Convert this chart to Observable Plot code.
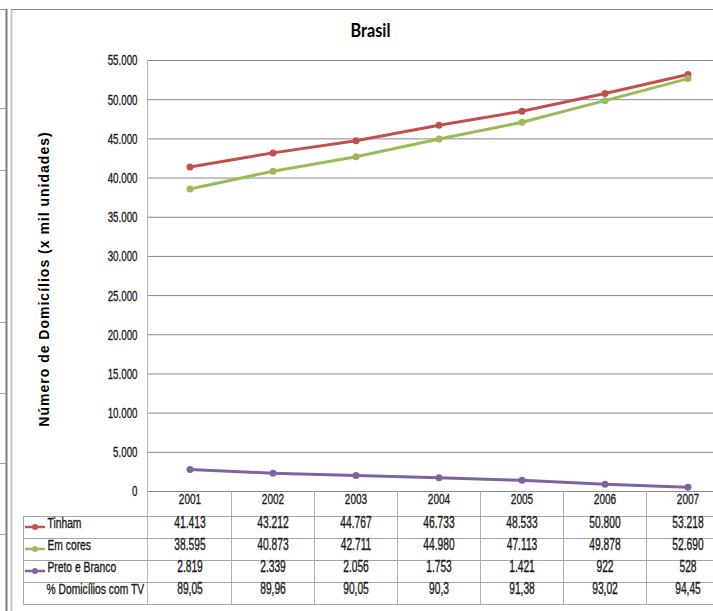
<!DOCTYPE html>
<html><head><meta charset="utf-8">
<script src="https://cdn.jsdelivr.net/npm/d3@7"></script>
<script src="https://cdn.jsdelivr.net/npm/@observablehq/plot@0.6"></script>
<style>html,body{margin:0;padding:0;background:#fff;overflow:hidden}</style>
</head><body><div id="chart"></div>
<script>
// ---- data ----
const years = ["2001","2002","2003","2004","2005","2006","2007"];
const tinham = [41413,43212,44767,46733,48533,50800,53218];
const emCores = [38595,40873,42711,44980,47113,49878,52690];
const pretoBranco = [2819,2339,2056,1753,1421,922,528];
const pctTV = [89.05,89.96,90.05,90.3,91.38,93.02,94.45];
const seriesNames = ["Tinham","Em cores","Preto e Branco"];
const pctLabel = "% Domicílios com TV";
const seriesColors = ["#C0504D","#9BBB59","#8064A2"];
const yTicks = [0,5000,10000,15000,20000,25000,30000,35000,40000,45000,50000,55000];
const chartTitle = "Brasil";
const yTitle = "Número de Domicílios (x mil unidades)";

// ---- formatting (pt-BR) ----
const loc = d3.formatLocale({decimal: ",", thousands: ".", grouping: [3], currency: ["R$", ""]});
const fmtInt = loc.format(",d");
const fmtPct = loc.format(".2~f");

const seriesValues = [tinham, emCores, pretoBranco];
const long = seriesNames.flatMap((s, k) => years.map((yr, i) => ({series: s, year: yr, value: seriesValues[k][i]})));
const rows = [
  {label: seriesNames[0], values: tinham, fmt: fmtInt, swatch: true},
  {label: seriesNames[1], values: emCores, fmt: fmtInt, swatch: true},
  {label: seriesNames[2], values: pretoBranco, fmt: fmtInt, swatch: true},
  {label: pctLabel, values: pctTV, fmt: fmtPct, swatch: false}
];

// ---- layout constants ----
const W = 713, H = 611;
const HEADER_H = 25, ROW_H = 22;
const TABLE_LEFT = 23;
const TXT = "#1a1a1a";

function tableGrid(index, scales, values, dims) {
  const x = scales.x, y = scales.y, color = scales.color;
  const g = d3.create("svg:g").attr("fill", "none");
  const y0 = Math.round(y(0));
  const yTop = Math.round(y(d3.max(yTicks)));
  const left = dims.marginLeft;
  const width = dims.width;
  const tableTop = y0 + HEADER_H;
  const tableBottom = tableTop + ROW_H * rows.length;
  const line = (x1, y1, x2, y2, stroke, sw = 1) =>
    g.append("line").attr("x1", x1).attr("y1", y1).attr("x2", x2).attr("y2", y2)
      .attr("stroke", stroke).attr("stroke-width", sw);
  // outer chart border
  line(11.5, 9, 11.5, H, "#c8c8c8", 2);
  line(11, 9.5, width, 9.5, "#8c8c8c", 1);
  // neighbouring panel on the far left
  line(6.5, 9, 6.5, H, "#7f7f7f", 2);
  line(0, 9.5, 7, 9.5, "#8c8c8c", 1);
  for (const ty of [108, 170, 322, 393, 463, 534]) line(0, ty + 0.5, 6, ty + 0.5, "#a0a0a0", 1);
  // plot-area left border
  line(left + 0.5, yTop, left + 0.5, tableBottom, "#b8b8b8", 1);
  // table horizontal lines
  for (let k = 0; k <= rows.length; ++k) {
    const yy = tableTop + ROW_H * k + 0.5;
    line(TABLE_LEFT, yy, width, yy, "#a6a6a6", 1);
  }
  // table left border
  line(TABLE_LEFT + 0.5, tableTop, TABLE_LEFT + 0.5, tableBottom, "#a6a6a6", 1);
  // band separators
  for (const yr of years.slice(1)) {
    const xx = Math.round(x(yr)) + 0.5;
    line(xx, y0, xx, tableBottom, "#b0b0b0", 1);
  }
  // legend swatches
  rows.forEach((r, k) => {
    if (!r.swatch) return;
    const c = color ? color(r.label) : seriesColors[k];
    const cy = tableTop + ROW_H * k + ROW_H / 2;
    line(TABLE_LEFT + 2, cy, TABLE_LEFT + 22, cy, c, 2.5);
    g.append("circle").attr("cx", TABLE_LEFT + 12).attr("cy", cy).attr("r", 3).attr("fill", c);
  });
  return g.node();
}

const heavy = {stroke: TXT, strokeWidth: 0.35};

const plot = Plot.plot({
  width: W, height: H,
  marginLeft: 147, marginRight: 0, marginTop: 60, marginBottom: 120,
  style: {fontFamily: "'Liberation Sans', Arial, sans-serif", background: "#fff", color: TXT, overflow: "hidden"},
  x: {type: "band", domain: years, range: [147, 729.4], padding: 0, axis: null},
  y: {domain: [0, 55000], range: [491, 60], axis: null},
  color: {domain: seriesNames, range: seriesColors},
  marks: [
    Plot.ruleY(yTicks, {stroke: "#8a8a8a", strokeWidth: 1}),
    tableGrid,
    // text group 0: y tick labels
    Plot.text(yTicks, {y: d => d, text: d => fmtInt(d), frameAnchor: "left", textAnchor: "end", dx: -10, fontSize: 15.5, fill: TXT, ...heavy}),
    Plot.line(long, {x: "year", y: "value", z: "series", stroke: "series", strokeWidth: 3, strokeLinejoin: "round"}),
    Plot.dot(long, {x: "year", y: "value", fill: "series", r: 3.5}),
    // text group 1: year header
    Plot.text(years, {x: d => d, text: d => d, frameAnchor: "bottom", dy: HEADER_H / 2, fontSize: 15.5, fill: TXT, ...heavy}),
    // text groups 2-5: table values
    ...rows.map((r, k) => Plot.text(years, {x: d => d, text: (d, i) => r.fmt(r.values[i]), frameAnchor: "bottom", dy: HEADER_H + ROW_H * k + ROW_H / 2, fontSize: 16, fill: TXT, ...heavy})),
    // text groups 6-9: row labels
    ...rows.map((r, k) => Plot.text([r.label], {frameAnchor: "bottom-left", textAnchor: "start", dx: (r.swatch ? 47 : 46) - 147, dy: HEADER_H + ROW_H * k + ROW_H / 2, fontSize: 14.5, fill: TXT, ...heavy})),
    // text group 10: title
    Plot.text([chartTitle], {frameAnchor: "top-left", textAnchor: "middle", dx: 370 - 147, dy: -36, fontSize: 18, fontWeight: "bold", fontFamily: "Lato, 'Liberation Sans', sans-serif", fill: "#000"}),
    // text group 11: y title
    Plot.text([yTitle], {frameAnchor: "left", textAnchor: "middle", rotate: -90, dx: 44 - 147, dy: 3, fontSize: 14, fontWeight: "bold", fill: "#000"})
  ]
});

// horizontally condense text to mimic the narrow face of the original
const textGroups = Array.from(plot.querySelectorAll('g[aria-label="text"]'));
function squeeze(group, sx) {
  if (!group) return;
  group.querySelectorAll("text").forEach(t => {
    let tr = t.getAttribute("transform");
    if (!tr) {
      const x = +t.getAttribute("x") || 0, y = +t.getAttribute("y") || 0;
      t.removeAttribute("x"); t.removeAttribute("y");
      tr = `translate(${x},${y})`;
    }
    t.setAttribute("transform", `${tr} scale(${sx},1)`);
  });
}
squeeze(textGroups[0], 0.63);
squeeze(textGroups[1], 0.65);
for (let k = 2; k <= 5; ++k) squeeze(textGroups[k], 0.64);
for (let k = 6; k <= 9; ++k) squeeze(textGroups[k], 0.71);
squeeze(textGroups[10], 0.9);
if (textGroups[11]) textGroups[11].querySelectorAll("text").forEach(t => t.style.letterSpacing = "1px");

document.getElementById("chart").appendChild(plot);
</script>
</body></html>
